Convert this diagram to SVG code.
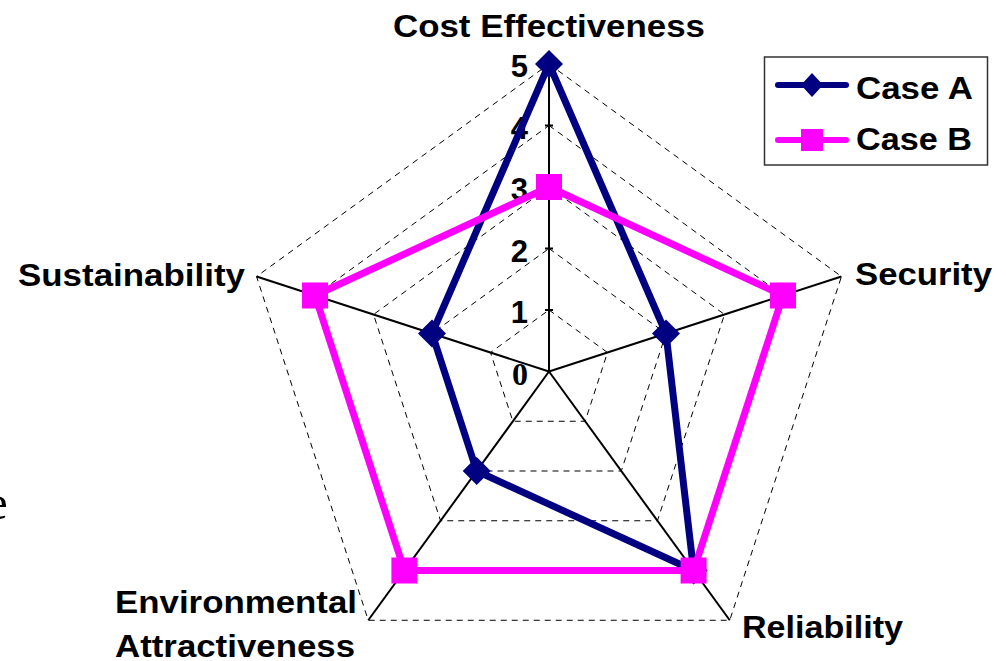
<svg xmlns="http://www.w3.org/2000/svg" width="1006" height="661" viewBox="0 0 1006 661">
<style>
.lbl{font-family:"Liberation Sans",Arial,sans-serif;font-weight:bold;font-size:31px;fill:#000}
.num{font-family:"Liberation Sans",Arial,sans-serif;font-weight:bold;font-size:31px;fill:#000;text-anchor:end}
.grid{fill:none;stroke:#000;stroke-width:1;stroke-dasharray:6 5}
.axis{stroke:#000;stroke-width:2;fill:none}
.sa{fill:none;stroke:#000080;stroke-width:7;stroke-linejoin:round}
.sb{fill:none;stroke:#FF00FF;stroke-width:7;stroke-linejoin:round}
.ma{fill:#000080}
.mb{fill:#FF00FF}
</style>
<defs>
<path id="dia" d="M0,-14 L14,0 L0,14 L-14,0 Z"/>
<rect id="sq" x="-13" y="-13" width="26" height="26"/>
</defs>
<rect x="0" y="0" width="1006" height="661" fill="#fff"/>
<text x="-14" y="519" style="font-family:'Liberation Serif','Times New Roman',serif;font-size:49px;fill:#000">e</text>
<g id="grid">
<polygon class="grid" points="549,310 607.49,352.5 585.15,421.25 512.85,421.25 490.51,352.5"/>
<polygon class="grid" points="549,248.5 665.99,333.49 621.3,471.01 476.7,471.01 432.01,333.49"/>
<polygon class="grid" points="549,187 724.48,314.49 657.45,520.76 440.55,520.76 373.52,314.49"/>
<polygon class="grid" points="549,125.5 782.97,295.49 693.6,570.51 404.4,570.51 315.03,295.49"/>
<polygon class="grid" points="549,64 841.46,276.48 729.75,620.27 368.25,620.27 256.54,276.48"/>
</g>
<g id="axes">
<line class="axis" x1="549" y1="371.5" x2="549" y2="64"/>
<line class="axis" x1="549" y1="371.5" x2="841.46" y2="276.48"/>
<line class="axis" x1="549" y1="371.5" x2="729.75" y2="620.27"/>
<line class="axis" x1="549" y1="371.5" x2="368.25" y2="620.27"/>
<line class="axis" x1="549" y1="371.5" x2="256.54" y2="276.48"/>
<path class="axis" stroke-width="1.5" d="M545,310H553M545,248.5H553M545,187H553M545,125.5H553"/>
</g>
<g id="scale">
<text class="num" x="528" y="77">5</text>
<text class="num" x="528" y="139">4</text>
<text class="num" x="528" y="200">3</text>
<text class="num" x="528" y="262">2</text>
<text class="num" x="528" y="323">1</text>
<text x="528" y="385" text-anchor="end" style="font-family:'Liberation Serif','Times New Roman',serif;font-weight:bold;font-size:32px;fill:#000">0</text>
</g>
<g id="labels">
<text id="cost" class="lbl" x="393" y="37" textLength="312" lengthAdjust="spacingAndGlyphs">Cost Effectiveness</text>
<text id="security" class="lbl" x="855" y="285" textLength="137" lengthAdjust="spacingAndGlyphs">Security</text>
<text id="reliability" class="lbl" x="742" y="638" textLength="161" lengthAdjust="spacingAndGlyphs">Reliability</text>
<text id="env1" class="lbl" x="115" y="613" textLength="242" lengthAdjust="spacingAndGlyphs">Environmental</text>
<text id="env2" class="lbl" x="115" y="657" textLength="240" lengthAdjust="spacingAndGlyphs">Attractiveness</text>
<text id="sustain" class="lbl" x="18" y="286" textLength="227" lengthAdjust="spacingAndGlyphs">Sustainability</text>
</g>
<g id="caseA">
<polygon class="sa" points="549,64 665.99,333.49 693.6,570.51 476.7,471.01 432.01,333.49"/>
<use href="#dia" class="ma" x="549" y="64"/>
<use href="#dia" class="ma" x="665.99" y="333.49"/>
<use href="#dia" class="ma" x="693.6" y="570.51"/>
<use href="#dia" class="ma" x="476.7" y="471.01"/>
<use href="#dia" class="ma" x="432.01" y="333.49"/>
</g>
<g id="caseB">
<polygon class="sb" points="549,187 782.97,295.49 693.6,570.51 404.4,570.51 315.03,295.49"/>
<use href="#sq" class="mb" x="549" y="187"/>
<use href="#sq" class="mb" x="782.97" y="295.49"/>
<use href="#sq" class="mb" x="693.6" y="570.51"/>
<use href="#sq" class="mb" x="404.4" y="570.51"/>
<use href="#sq" class="mb" x="315.03" y="295.49"/>
</g>
<g id="legend">
<rect x="764.5" y="57" width="223" height="108" fill="#fff" stroke="#333" stroke-width="1.5"/>
<line x1="778" y1="85" x2="846" y2="85" stroke="#000080" stroke-width="6" stroke-linecap="round"/>
<path d="M812,73 L823,85 L812,97 L801,85 Z" class="ma"/>
<text class="lbl" x="856" y="99" textLength="117" lengthAdjust="spacingAndGlyphs">Case A</text>
<line x1="778" y1="140" x2="846" y2="140" stroke="#FF00FF" stroke-width="6" stroke-linecap="round"/>
<rect x="801" y="129" width="22" height="22" class="mb"/>
<text class="lbl" x="856" y="150" textLength="116" lengthAdjust="spacingAndGlyphs">Case B</text>
</g>
</svg>
